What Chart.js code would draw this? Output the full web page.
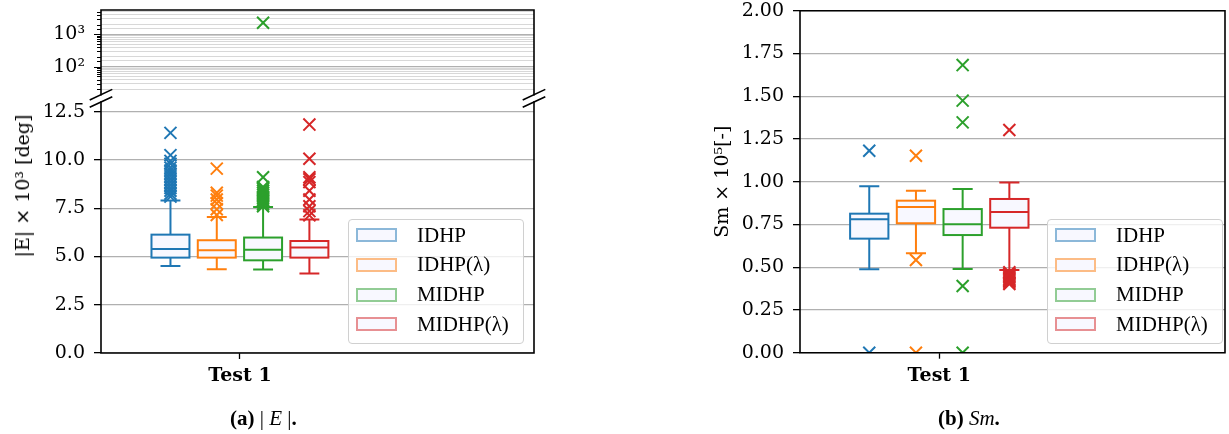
<!DOCTYPE html>
<html>
<head>
<meta charset="utf-8">
<script src="https://cdn.jsdelivr.net/npm/chart.js@4/dist/chart.umd.min.js"></script>
<style>
  body { margin: 0; width: 1229px; height: 434px; background: #fff; position: relative; overflow: hidden; }
  canvas { position: absolute; }
  .ylabel { position: absolute; font: 19px "DejaVu Serif"; white-space: nowrap; transform: translate(-50%, -50%) rotate(-90deg); }
  .legend { position: absolute; width: 174px; height: 123px; border: 1px solid #d0d0d0; border-radius: 4px; background: rgba(255,255,255,0.8); }
  .legend .row { position: absolute; left: 0; height: 20px; display: flex; align-items: center; font: 21px "Liberation Serif"; }
  .legend .patch { width: 37px; height: 10px; margin-left: 7px; margin-right: 20px; border: 2px solid; background: #f8f8ff; }
  .caption { position: absolute; top: 406px; line-height: 24px; font: 21px "Liberation Serif"; white-space: nowrap; }
</style>
</head>
<body>
<canvas id="errTop" width="560" height="96" style="left:0;top:0"></canvas>
<canvas id="errBottom" width="560" height="349" style="left:0;top:85px"></canvas>
<canvas id="smChart" width="539" height="434" style="left:690px;top:0"></canvas>
<div class="ylabel" style="left:22px;top:186px">|E| × 10³ [deg]</div>
<div class="legend" id="errLegend" style="left:348px;top:219px"></div>
<div class="legend" id="smLegend" style="left:1047px;top:219px"></div>
<div class="caption" style="left:230px"><b>(a)</b> | <i>E</i> |<b>.</b></div>
<div class="caption" style="left:938px"><b>(b)</b> <i>Sm</i><b>.</b></div>
<script>
// controllers and their colours
const groups = ["IDHP", "IDHP(λ)", "MIDHP", "MIDHP(λ)"];
const colors = ["#1f77b4", "#ff7f0e", "#2ca02c", "#d62728"];
const testLabels = ["Test 1"];

// tick values
const errTicks = [0, 2.5, 5, 7.5, 10, 12.5];
const smTicks = [0, 0.25, 0.5, 0.75, 1, 1.25, 1.5, 1.75, 2];

// |E| x 10^3 [deg]: whiskers, quartiles, medians, fliers
const errLow = [4.51, 4.34, 4.32, 4.12];
const errQ1 = [4.94, 4.94, 4.80, 4.94];
const errMed = [5.39, 5.32, 5.35, 5.46];
const errQ3 = [6.13, 5.84, 5.98, 5.80];
const errHigh = [7.90, 7.04, 7.56, 6.91];
const errOutliers = [
  [8.10, 8.25, 8.40, 8.55, 8.70, 8.85, 9.00, 9.15, 9.30, 9.45, 9.60, 9.80, 9.95, 10.25, 11.40],
  [7.15, 7.45, 7.75, 7.95, 8.15, 8.30, 9.55],
  [7.60, 7.70, 7.80, 7.90, 8.00, 8.10, 8.20, 8.30, 8.40, 8.50, 8.60, 9.10, 2280],
  [7.13, 7.35, 7.60, 7.95, 8.40, 8.85, 9.00, 9.10, 10.06, 11.83]
];

// Sm x 10^5 [-]
const smLow = [0.488, 0.581, 0.489, 0.484];
const smQ1 = [0.667, 0.757, 0.688, 0.731];
const smMed = [0.780, 0.852, 0.751, 0.823];
const smQ3 = [0.813, 0.889, 0.840, 0.899];
const smHigh = [0.973, 0.947, 0.957, 0.996];
const smOutliers = [
  [0, 1.181],
  [0, 0.542, 1.152],
  [0, 0.390, 1.347, 1.474, 1.682],
  [0.402, 0.410, 0.418, 0.425, 0.432, 0.440, 0.447, 0.455, 0.462, 0.470, 1.302]
];

// axis break: linear part below, log part above
const linMax = 13;
const logMin = 13.67, logMax = 5623;

// box layout around the single test tick
const offsets = [-1.5, -0.5, 0.5, 1.5];
const boxHalf = 0.41;
const capHalf = 0.215;
const boxFill = "#f8f8ff";
const gridGrey = "#b0b0b0";
const tickFont = { family: "DejaVu Serif", size: 19 };

function fade(hex, a) {
  const n = parseInt(hex.slice(1), 16);
  return `rgba(${n >> 16}, ${(n >> 8) & 255}, ${n & 255}, ${a})`;
}

// fixed axis sizes so the plot areas line up
function fixWidth(w) {
  return s => { s.width = w; s.paddingTop = 0; s.paddingBottom = 0; };
}
function fixHeight(h) {
  return s => { s.height = h; s.paddingLeft = 0; s.paddingRight = 0; };
}

// boxes + whiskers drawn through the chart scales
const boxPlugin = {
  id: "boxes",
  beforeDatasetsDraw(chart, args, opts) {
    if (!opts.q1) return;
    const { ctx, chartArea: a } = chart;
    const xs = chart.scales.x, ys = chart.scales.y;
    ctx.save();
    ctx.beginPath();
    ctx.rect(a.left, a.top, a.right - a.left, a.bottom - a.top);
    ctx.clip();
    ctx.lineWidth = 2;
    for (let i = 0; i < groups.length; i++) {
      const cx = xs.getPixelForValue(offsets[i]);
      const hw = xs.getPixelForValue(offsets[i] + boxHalf) - cx;
      const cw = xs.getPixelForValue(offsets[i] + capHalf) - cx;
      const yLo = ys.getPixelForValue(opts.low[i]);
      const y1 = ys.getPixelForValue(opts.q1[i]);
      const yM = ys.getPixelForValue(opts.med[i]);
      const y3 = ys.getPixelForValue(opts.q3[i]);
      const yHi = ys.getPixelForValue(opts.high[i]);
      ctx.strokeStyle = colors[i];
      ctx.beginPath();
      ctx.moveTo(cx, y1); ctx.lineTo(cx, yLo);
      ctx.moveTo(cx, y3); ctx.lineTo(cx, yHi);
      ctx.moveTo(cx - cw, yLo); ctx.lineTo(cx + cw, yLo);
      ctx.moveTo(cx - cw, yHi); ctx.lineTo(cx + cw, yHi);
      ctx.stroke();
      ctx.fillStyle = boxFill;
      ctx.fillRect(cx - hw, y3, 2 * hw, y1 - y3);
      ctx.strokeRect(cx - hw, y3, 2 * hw, y1 - y3);
      ctx.beginPath();
      ctx.moveTo(cx - hw, yM); ctx.lineTo(cx + hw, yM);
      ctx.stroke();
    }
    ctx.restore();
  }
};

// axes frame, log tick marks and the axis-break marks
const framePlugin = {
  id: "frame",
  afterDatasetsDraw(chart, args, opts) {
    const { ctx, chartArea: a } = chart;
    ctx.save();
    ctx.strokeStyle = "#000";
    ctx.lineWidth = 1.6;
    ctx.lineCap = "square";
    ctx.beginPath();
    if (opts.left) { ctx.moveTo(a.left, a.top); ctx.lineTo(a.left, a.bottom); }
    if (opts.right) { ctx.moveTo(a.right, a.top); ctx.lineTo(a.right, a.bottom); }
    if (opts.top) { ctx.moveTo(a.left, a.top); ctx.lineTo(a.right, a.top); }
    if (opts.bottom) { ctx.moveTo(a.left, a.bottom); ctx.lineTo(a.right, a.bottom); }
    ctx.stroke();

    if (opts.logTicks) {
      const ys = chart.scales.y;
      ctx.lineWidth = 1.2;
      ctx.lineCap = "butt";
      ctx.beginPath();
      ys.ticks.forEach(t => {
        if (t.value <= ys.min || t.value >= ys.max) return;
        const len = Number.isInteger(Math.log10(t.value)) ? 7 : 4;
        const y = Math.round(ys.getPixelForValue(t.value)) + 0.5;
        ctx.moveTo(a.left - len, y); ctx.lineTo(a.left, y);
      });
      ctx.stroke();
    }

    if (opts.breaks) {
      ctx.lineWidth = 1.6;
      ctx.lineCap = "butt";
      ctx.beginPath();
      [a.left, a.right].forEach(x => {
        [a.top - 7.3, a.top].forEach(y => {
          ctx.moveTo(x - 11.3, y + 5.3); ctx.lineTo(x + 11.3, y - 5.3);
        });
      });
      ctx.stroke();
    }
    ctx.restore();
  }
};

function outlierSets(outliers, keep) {
  return groups.map((g, i) => ({
    label: g,
    data: outliers[i].filter(keep).map(v => ({ x: offsets[i], y: v })),
    pointStyle: "crossRot",
    pointRadius: 8.5,
    borderColor: colors[i],
    borderWidth: 2,
    clip: 0
  }));
}

function testAxis(min, max, height, show) {
  return {
    type: "linear",
    display: show,
    min: min,
    max: max,
    afterBuildTicks: s => { s.ticks = testLabels.map((t, i) => ({ value: i })); },
    afterFit: fixHeight(height),
    ticks: {
      callback: (v) => testLabels[v],
      font: { family: "DejaVu Serif", size: 19, weight: "bold" },
      color: "#000",
      padding: 6,
      maxRotation: 0
    },
    grid: { drawOnChartArea: false, tickLength: 6, tickColor: "#000", tickWidth: 1.3 },
    border: { display: false }
  };
}

function valueAxis(min, max, width, ticks, digits) {
  return {
    min: min,
    max: max,
    afterFit: fixWidth(width),
    afterBuildTicks: s => { s.ticks = ticks.map(v => ({ value: v })); },
    ticks: { autoSkip: false, padding: 9, font: tickFont, color: "#000", callback: v => v.toFixed(digits) },
    grid: { color: gridGrey, lineWidth: 1.3, tickColor: "#000", tickLength: 7, tickWidth: 1.3 },
    border: { display: false }
  };
}

const common = {
  type: "scatter",
  plugins: [boxPlugin, framePlugin]
};

function baseOptions(pad, frame, boxes, scales) {
  return {
    responsive: false,
    animation: false,
    events: [],
    layout: { autoPadding: false, padding: pad },
    plugins: {
      legend: { display: false },
      tooltip: { enabled: false },
      frame: frame,
      boxes: boxes
    },
    scales: scales
  };
}

// upper part of the broken |E| axis (log)
new Chart(document.getElementById("errTop"), {
  ...common,
  data: { datasets: outlierSets(errOutliers, v => v > linMax) },
  options: baseOptions(
    { top: 10, right: 26, bottom: 1.3, left: 0 },
    { left: true, right: true, top: true, logTicks: true },
    {},
    {
      x: testAxis(-3.0, 6.35, 0, false),
      y: {
        type: "logarithmic",
        min: logMin,
        max: logMax,
        afterFit: fixWidth(101),
        ticks: {
          autoSkip: false,
          padding: 16,
          font: tickFont,
          color: "#000",
          callback: v => v === 100 ? "10²" : v === 1000 ? "10³" : ""
        },
        grid: {
          drawTicks: false,
          color: c => {
            const v = c.tick ? c.tick.value : 0;
            if (v <= logMin || v >= logMax) return "rgba(0,0,0,0)";
            return Number.isInteger(Math.log10(v)) ? gridGrey : "#d4d4d4";
          },
          lineWidth: c => (c.tick && Number.isInteger(Math.log10(c.tick.value))) ? 1.3 : 0.9
        },
        border: { display: false }
      }
    })
});

// lower part of the broken |E| axis (linear)
new Chart(document.getElementById("errBottom"), {
  ...common,
  data: { datasets: outlierSets(errOutliers, v => v <= linMax) },
  options: baseOptions(
    { top: 17, right: 26, bottom: 0, left: 0 },
    { left: true, right: true, bottom: true, breaks: true },
    { low: errLow, q1: errQ1, med: errMed, q3: errQ3, high: errHigh },
    {
      x: testAxis(-3.0, 6.35, 81, true),
      y: valueAxis(0, linMax, 101, errTicks, 1)
    })
});

// Sm panel
const smY = valueAxis(0, 2, 88, smTicks, 2);
smY.title = { display: true, text: "Sm × 10⁵[-]", font: tickFont, color: "#000", padding: 0 };
new Chart(document.getElementById("smChart"), {
  ...common,
  data: { datasets: outlierSets(smOutliers, () => true) },
  options: baseOptions(
    { top: 10.7, right: 4, bottom: 0, left: 22 },
    { left: true, right: true, top: true, bottom: true },
    { low: smLow, q1: smQ1, med: smMed, q3: smQ3, high: smHigh },
    {
      x: testAxis(-2.983, 6.118, 81.3, true),
      y: smY
    })
});

// legends
function buildLegend(id) {
  const box = document.getElementById(id);
  groups.forEach((g, i) => {
    const row = document.createElement("div");
    row.className = "row";
    row.style.top = (5 + i * 29.8) + "px";
    const patch = document.createElement("span");
    patch.className = "patch";
    patch.style.borderColor = fade(colors[i], 0.5);
    const txt = document.createElement("span");
    txt.textContent = g;
    row.appendChild(patch);
    row.appendChild(txt);
    box.appendChild(row);
  });
}
buildLegend("errLegend");
buildLegend("smLegend");
</script>
</body>
</html>
